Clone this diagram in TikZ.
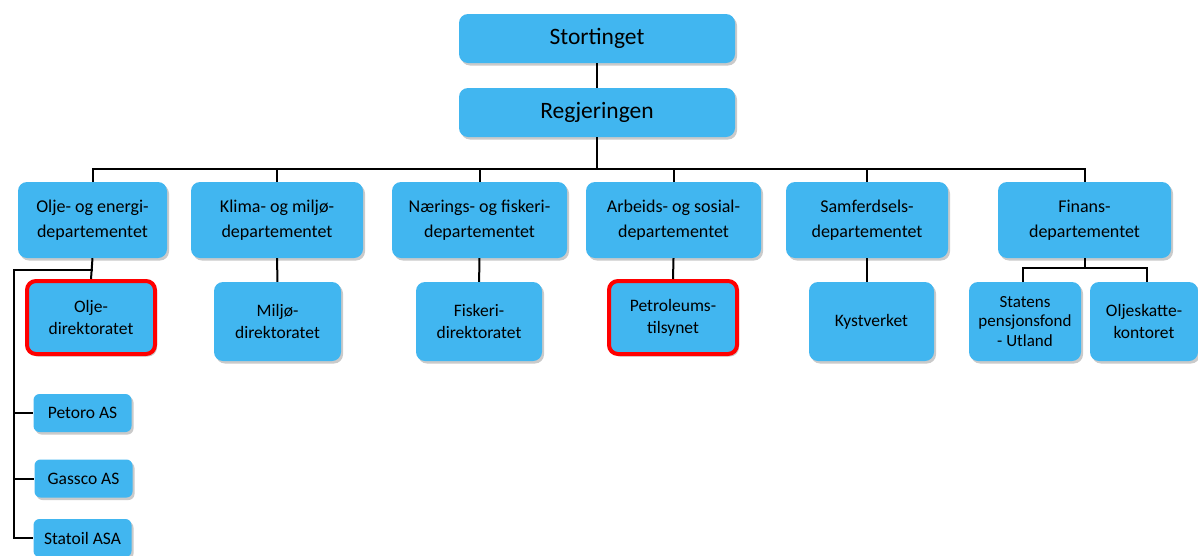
\documentclass[tikz,border=0pt]{standalone}
\usepackage{fontspec}
\setmainfont{Carlito}
\usetikzlibrary{shadows}
\definecolor{boxblue}{RGB}{65,182,240}
\tikzset{
  box/.style={rectangle, rounded corners=9pt, fill=boxblue, draw=none, align=center, inner sep=0pt,
    drop shadow={shadow xshift=2pt, shadow yshift=-2.5pt, opacity=0.35, fill=black!60}},
  topbox/.style={box, minimum width=276pt, minimum height=49pt, font=\fontsize{23.5}{28}\selectfont},
  dept/.style={box, minimum height=76pt, font=\fontsize{18}{25}\selectfont},
  sub/.style={box, minimum height=79pt, font=\fontsize{17.5}{22}\selectfont},
  hl/.style={draw=red, line width=4pt},
  comp/.style={box, minimum width=98pt, minimum height=38pt, rounded corners=6pt, font=\fontsize{17.5}{20}\selectfont},
  conn/.style={draw=black, line width=2pt}
}
\begin{document}
\begin{tikzpicture}[x=1pt,y=-1pt]
\useasboundingbox (0,0) rectangle (1198,555);
% top
\node[topbox] (st) at (597,38.5) {Stortinget};
\node[topbox] (rg) at (597,112.5) {Regjeringen};
\coordinate (bus) at (597,169);
% departments
\node[dept, minimum width=149pt] (oed) at (92.5,220) {Olje- og energi-\\departementet};
\node[dept, minimum width=172pt] (kld) at (277,220) {Klima- og miljø-\\departementet};
\node[dept, minimum width=175pt] (nfd) at (479.5,220) {Nærings- og fiskeri-\\departementet};
\node[dept, minimum width=175pt] (asd) at (673.5,220) {Arbeids- og sosial-\\departementet};
\node[dept, minimum width=162pt] (sd)  at (867,220) {Samferdsels-\\departementet};
\node[dept, minimum width=173pt] (fin) at (1084.5,220) {Finans-\\departementet};
% sub-agencies
\node[sub, hl, minimum width=128pt, minimum height=73pt] (od) at (91,317.5) {Olje-\\direktoratet};
\node[sub, minimum width=127pt] (md) at (277.5,321.5) {Miljø-\\direktoratet};
\node[sub, minimum width=126pt] (fd) at (479,321.5) {Fiskeri-\\direktoratet};
\node[sub, hl, minimum width=128pt, minimum height=73pt] (pt) at (673,317.5) {Petroleums-\\tilsynet};
\node[sub, minimum width=125pt] (kv) at (871.5,321.5) {Kystverket};
\node[sub, minimum width=112pt, font=\fontsize{17}{19.5}\selectfont] (spu) at (1025,321.5) {Statens\\pensjonsfond\\- Utland};
\node[sub, minimum width=108pt] (osk) at (1144,321.5) {Oljeskatte-\\kontoret};
% companies
\node[comp] (pet) at (82.5,413) {Petoro AS};
\node[comp] (gas) at (83.5,478.5) {Gassco AS};
\node[comp] (sta) at (82.5,538) {Statoil ASA};
% connectors
\draw[conn] (st) -- (rg);
\draw[conn] (rg.south) -- (bus);
\foreach \d in {oed,kld,nfd,asd,sd,fin}{
  \draw[conn] (bus) -| (\d.north);
}
\draw[conn] (oed.south) -- (od.north);
\draw[conn] (kld) -- (md);
\draw[conn] (nfd) -- (fd);
\draw[conn] (asd.south) -- (pt.north);
\draw[conn] (sd.south) -- (sd.south |- kv.north);
\coordinate (lj) at (92.5,270);
\coordinate (lc) at (14,270);
\draw[conn] (lj) -- (lc) |- (sta.west);
\draw[conn] (lc |- pet.west) -- (pet.west);
\draw[conn] (lc |- gas.west) -- (gas.west);
\coordinate (fj) at (1084.5,268);
\draw[conn] (fin.south) -- (fj);
\draw[conn] (fj) -| (1023,282);
\draw[conn] (fj) -| (1147,282);
\end{tikzpicture}
\end{document}
